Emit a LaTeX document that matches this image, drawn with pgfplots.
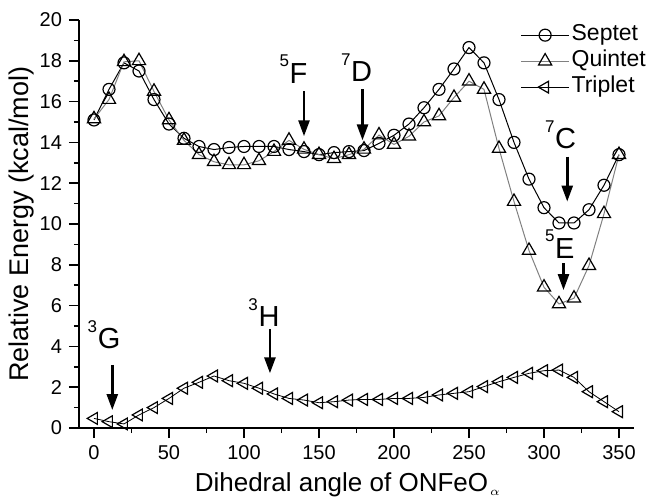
\documentclass[border=0pt]{standalone}
\usepackage{fontspec}
\setmainfont{Liberation Sans}
\usepackage{pgfplots}
\pgfplotsset{compat=1.18}
\usetikzlibrary{arrows.meta}

\newcommand{\lab}[2]{\raisebox{8.2pt}{\fontsize{8.5}{8}\selectfont #1}\kern0.3pt#2}

\begin{document}
\begin{tikzpicture}
\useasboundingbox (-39.5pt,-35.5pt) rectangle (284.5pt,214pt);
\begin{axis}[
    width=277.5pt, height=204pt, scale only axis,
    xmin=-10, xmax=360, ymin=0, ymax=20,
    axis x line*=bottom, axis y line*=left,
    axis line style={line width=1pt},
    xtick={0,50,...,350}, ytick={0,2,...,20},
    minor x tick num=1, minor y tick num=1,
    tick align=outside,
    major tick length=5pt, minor tick length=2.5pt,
    every tick/.style={line width=0.8pt, black},
    tick label style={font=\fontsize{10}{10}\selectfont},
    /pgf/number format/assume math mode=true,
    xlabel={Dihedral angle of ONFeO\rlap{\kern1pt\raisebox{-2.3pt}{\fontsize{6}{6}\selectfont$\alpha$}}},
    xlabel style={font=\fontsize{13}{15}\selectfont, at={(axis description cs:0.473,-0.155)}, anchor=base},
    ylabel={Relative Energy (kcal/mol)},
    ylabel style={font=\fontsize{13.5}{16}\selectfont, at={(axis description cs:-0.103,0.50)}, anchor=center},
    clip=false,
    legend style={at={(axis description cs:0.795,0.995)}, anchor=north west,
        draw=none, fill=none, inner sep=0pt, font=\fontsize{11.5}{12}\selectfont, row sep=0.3pt,
        nodes={inner sep=1pt, text height=8.2pt, text depth=2.5pt}},
    legend cell align=left,
    legend image code/.code={\draw[mark repeat=2,mark phase=2,#1] plot coordinates {(0pt,0pt) (12pt,0pt) (24pt,0pt)};},
]

% Septet
\addplot[black, line width=0.5pt, mark=o, mark size=3.0pt,
    mark options={fill=white, line width=0.6pt}] coordinates {
(0,15.1) (10,16.6) (20,17.9) (30,17.5) (40,16.1) (50,14.9) (60,14.2) (70,13.8)
(80,13.65) (90,13.75) (100,13.8) (110,13.8) (120,13.8) (130,13.65) (140,13.55)
(150,13.4) (160,13.5) (170,13.55) (180,13.6) (190,13.95) (200,14.35) (210,14.9)
(220,15.7) (230,16.6) (240,17.6) (250,18.65) (260,17.9) (270,16.1) (280,14.0)
(290,12.2) (300,10.8) (310,10.05) (320,10.05) (330,10.7) (340,11.9) (350,13.4)
};

% Quintet
\addplot[gray, line width=0.5pt, mark=triangle, mark size=3.8pt,
    mark options={black, fill=white, line width=0.6pt}] coordinates {
(0,15.15) (10,16.1) (20,17.95) (30,18.0) (40,16.5) (50,15.1) (60,14.1) (70,13.4)
(80,13.05) (90,12.9) (100,12.9) (110,13.1) (120,13.55) (130,14.1) (140,13.66)
(150,13.4) (160,13.2) (170,13.4) (180,13.66) (190,14.36) (200,13.9) (210,14.3)
(220,15.0) (230,15.3) (240,16.2) (250,17.0) (260,16.6) (270,13.7) (280,11.1)
(290,8.7) (300,6.9) (310,6.08) (320,6.36) (330,7.96) (340,10.5) (350,13.4)
};

% Triplet
\addplot[black, line width=0.4pt, mark=triangle, mark size=3.4pt,
    mark options={fill=white, line width=0.6pt, rotate=90}] coordinates {
(0,0.47) (10,0.31) (20,0.2) (30,0.64) (40,1.0) (50,1.45) (60,1.95) (70,2.24)
(80,2.55) (90,2.32) (100,2.19) (110,1.95) (120,1.67) (130,1.45) (140,1.37)
(150,1.24) (160,1.29) (170,1.37) (180,1.4) (190,1.4) (200,1.45) (210,1.45)
(220,1.5) (230,1.62) (240,1.7) (250,1.78) (260,2.03) (270,2.27) (280,2.48)
(290,2.68) (300,2.81) (310,2.84) (320,2.48) (330,1.78) (340,1.29) (350,0.8)
};

\legend{Septet, Quintet, Triplet}

% state labels and arrows
\tikzset{lbl/.style={anchor=base, inner sep=0pt, font=\fontsize{14.5}{15}\selectfont},
         arr/.style={line width=1.3pt, -{Triangle[length=8pt,width=5.5pt]}}}
\node[lbl] at (axis cs:133,16.9) {\lab{5}{F}};
\draw[arr] (axis cs:140,16.5) -- (axis cs:140,14.3);
\node[lbl] at (axis cs:175,16.97) {\lab{7}{D}};
\draw[arr] (axis cs:179,16.6) -- (axis cs:179,14.1);
\node[lbl] at (axis cs:311,13.7) {\lab{7}{C}};
\draw[arr] (axis cs:315.5,13.3) -- (axis cs:315.5,11.1);
\node[lbl] at (axis cs:310.5,8.32) {\lab{5}{E}};
\draw[arr] (axis cs:313,8.07) -- (axis cs:313,6.76);
\node[lbl] at (axis cs:6.7,3.9) {\lab{3}{G}};
\draw[arr] (axis cs:12.2,3.09) -- (axis cs:12.2,0.88);
\node[lbl] at (axis cs:113.3,4.97) {\lab{3}{H}};
\draw[arr] (axis cs:117.3,4.84) -- (axis cs:117.3,2.68);
\end{axis}
\end{tikzpicture}
\end{document}
